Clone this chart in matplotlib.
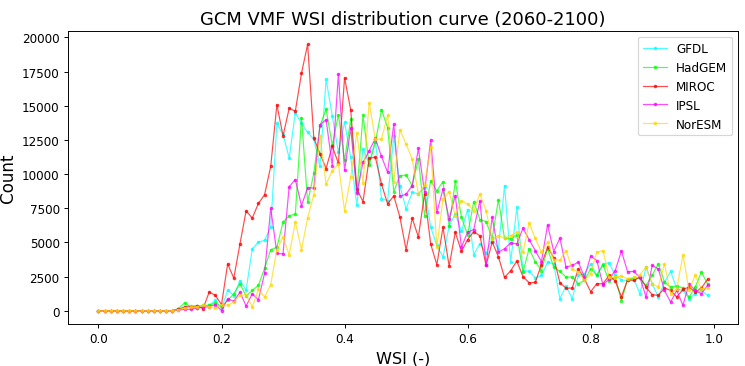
import numpy as np
import matplotlib
matplotlib.use("Agg")
import matplotlib.pyplot as plt

wsi = [i / 100 for i in range(100)]

gfdl = [0]*13 + [100, 300, 350, 200, 300, 400, 750, 150, 1500, 1100, 2200, 1500, 4530, 5010, 5150,
                 6100, 13700, 12900, 11170, 14500, 13700, 13040, 12550, 10550, 16930, 14260, 11580,
                 13790, 11240, 7740, 11820, 10700, 12550, 8200, 8050, 12800, 9150, 7450, 8660, 8540,
                 9030, 6110, 4770, 3920, 6200, 7100, 5800, 7400, 4100, 4900, 4200, 5300, 4500, 9150,
                 3550, 7570, 2940, 2870, 2400, 2580, 3550, 3430, 880, 1800, 880, 2580, 2700, 3430,
                 2600, 3430, 3500, 2580, 2250, 2210, 2330, 1240, 3190, 1970, 1000, 2090, 2870, 1600,
                 1480, 880, 1240, 1480, 1120]
hadgem = [0]*13 + [150, 580, 270, 320, 390, 390, 580, 270, 750, 1240, 1970, 1070, 1480, 1850, 3100,
                   4450, 4650, 6470, 6960, 7050, 14130, 7920, 10050, 13530, 14740, 12100, 14350, 11000,
                   14000, 8660, 14300, 10660, 12310, 14700, 13400, 8710, 9880, 9920, 9150, 11090, 6960,
                   9510, 8780, 9440, 6180, 9460, 6840, 5550, 7980, 6670, 6520, 5300, 8120, 5300, 5260,
                   5550, 2820, 4530, 3580, 2940, 4530, 3190, 2880, 2460, 2460, 1970, 2210, 3070, 2580,
                   3360, 2140, 2460, 700, 2300, 2380, 2380, 1850, 2580, 3430, 2090, 1730, 1800, 1660,
                   1000, 1730, 2820, 1970]
miroc = [0]*13 + [100, 250, 300, 350, 150, 1360, 1120, 440, 3430, 2380, 4890, 7300, 6780, 7850, 8480,
                  10560, 15070, 12800, 14800, 14600, 17370, 19490, 12640, 11500, 10400, 12040, 10780,
                  17030, 14700, 8900, 7980, 11140, 11240, 9270, 7820, 8400, 6840, 4460, 6770, 5380,
                  8540, 4880, 3360, 6100, 3260, 5740, 4340, 5200, 5780, 5480, 3310, 5030, 3960, 2430,
                  2920, 3630, 2500, 2040, 2070, 3370, 4650, 3880, 2050, 1640, 1660, 3060, 2310, 1390,
                  1970, 1970, 2580, 2170, 1020, 2260, 2210, 2450, 1730, 1170, 1120, 1660, 1480, 1000,
                  1550, 1730, 1360, 1660, 2290]
ipsl = [0]*13 + [50, 100, 100, 200, 250, 300, 450, 0, 880, 680, 1360, 340, 1240, 800, 2730, 7510,
                 4190, 4160, 9080, 9590, 7690, 9000, 8970, 13600, 13970, 10610, 17300, 10260, 13350,
                 8630, 10850, 11700, 12600, 11290, 10120, 13650, 8370, 8530, 9150, 11870, 8660, 12500,
                 7200, 8870, 6720, 8420, 4650, 5740, 5940, 8050, 3360, 6840, 4280, 4530, 4960, 4890,
                 6030, 5200, 4400, 3590, 6280, 4330, 5300, 3190, 3310, 3550, 2450, 3990, 3670, 1890,
                 2300, 2940, 4360, 2850, 2870, 2450, 1000, 3310, 3070, 1480, 630, 1480, 390, 1970,
                 1480, 1240, 1850]
noresm = [0]*13 + [80, 200, 250, 300, 400, 300, 200, 440, 390, 630, 1120, 1170, 270, 1550, 1000,
                   1900, 4470, 5380, 4080, 6500, 4450, 6800, 8490, 12790, 9270, 10240, 10730, 7320,
                   9770, 13030, 9340, 15230, 12550, 12550, 14300, 9440, 13230, 12190, 11090, 8530,
                   9200, 11950, 4650, 8170, 8710, 6960, 8050, 7800, 7320, 8540, 7320, 5260, 5500, 5300,
                   5500, 5740, 4280, 6420, 5290, 4280, 5010, 3700, 3700, 4400, 3070, 2820, 2210, 2700,
                   4280, 4400, 2460, 2460, 2520, 2330, 2450, 2630, 3190, 1970, 1730, 3430, 1240, 1600,
                   4090, 1480, 2580, 1600, 1660]

series_names = ["GFDL", "HadGEM", "MIROC", "IPSL", "NorESM"]
series_values = [gfdl, hadgem, miroc, ipsl, noresm]
series_colors = ["cyan", "lime", "red", "magenta", "gold"]

DPI = 86
fig = plt.figure(figsize=(745 / DPI, 367 / DPI), dpi=DPI)
ax = fig.add_axes([68 / 745, 1 - 325 / 367, (738 - 68) / 745, (325 - 32) / 367])
for name, vals, col in zip(series_names, series_values, series_colors):
    ax.plot(wsi, vals, color=col, marker='.', markersize=4, linewidth=1, alpha=0.7, label=name)

ax.set_title("GCM VMF WSI distribution curve (2060-2100)", fontsize=15)
ax.set_xlabel("WSI (-)", fontsize=13.5)
ax.set_ylabel("Count", fontsize=14)
ax.legend(loc="upper right", fontsize=10)
fig.savefig("out.png", dpi=DPI)
